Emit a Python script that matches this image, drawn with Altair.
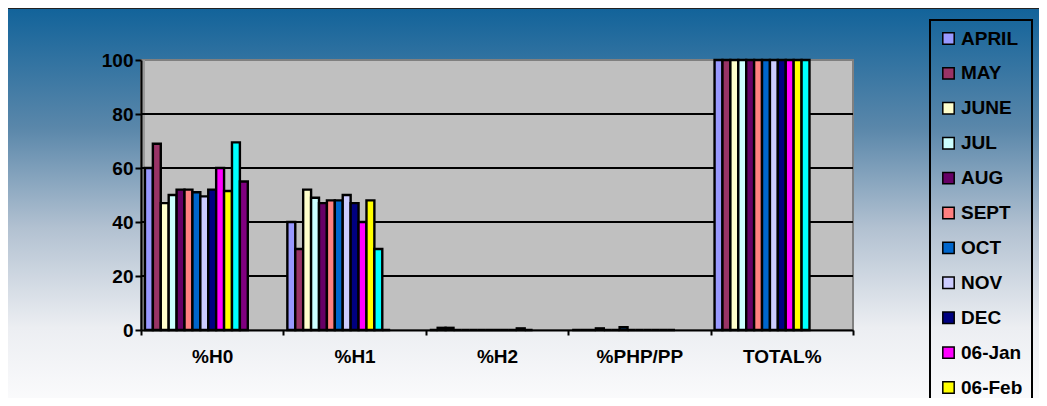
import altair as alt
import pandas as pd

categories = ["%H0", "%H1", "%H2", "%PHP/PP", "TOTAL%"]
series = ["APRIL", "MAY", "JUNE", "JUL", "AUG", "SEPT", "OCT", "NOV", "DEC",
          "06-Jan", "06-Feb", "06-Mar", "06-Apr"]
colors = ["#9999FF", "#993366", "#FFFFCC", "#CCFFFF", "#660066", "#FF8080",
          "#0066CC", "#CCCCFF", "#000080", "#FF00FF", "#FFFF00", "#00FFFF", "#800080"]

h0 =    [60, 69, 47, 50, 52, 52, 51, 49.5, 52, 60, 51.5, 69.5, 55]
h1 =    [40, 30, 52, 49, 47, 48, 48, 50, 47, 40, 48, 30, 0]
h2 =    [0, 0.8, 0.8, 0, 0, 0, 0, 0, 0, 0, 0, 0.6, 0]
php =   [0, 0, 0, 0.6, 0, 0, 1.0, 0, 0, 0, 0, 0, 0]
total = [100, 100, 100, 100, 100, 100, 100, 100, 100, 100, 100, 100, 0]

y_ticks = [0, 20, 40, 60, 80, 100]
grid_values = [20, 40, 60, 80]

legend_shown = series[:11]
dummy_slots = ["_a", "_b", "_c", "_d"]

rows = []
for cat, vals in zip(categories, [h0, h1, h2, php, total]):
    for s, v in zip(series, vals):
        if cat == "TOTAL%" and s == "06-Apr":
            continue
        rows.append({"cat": cat, "series": s, "value": v})
df = pd.DataFrame(rows)

W, H = 712, 270
PL, PT, PR, PB = 133, 52, 186, 68

yscale = alt.Scale(domain=[0, 100], nice=False)
yaxis = alt.Axis(values=y_ticks, labelFont="Liberation Sans",
                 labelFontWeight="bold", labelFontSize=19, labelColor="black",
                 labelPadding=2, domainColor="black", domainWidth=2,
                 tickColor="black", tickSize=6, tickWidth=2,
                 grid=False, zindex=2)

bg = alt.Chart(pd.DataFrame({"a": [0]})).mark_rect(
    fill=alt.Gradient(
        gradient="linear", x1=0, y1=0, x2=0, y2=1,
        stops=[alt.GradientStop(color="#12639a", offset=0),
               alt.GradientStop(color="#5a87aa", offset=0.3),
               alt.GradientStop(color="#b2c1d1", offset=0.55),
               alt.GradientStop(color="#eceef2", offset=0.8),
               alt.GradientStop(color="#fcfcfd", offset=1)]),
    stroke="#222222", strokeWidth=2,
).encode(x=alt.value(-135), x2=alt.value(W + PR + 20),
         y=alt.value(-52), y2=alt.value(H + PB + 10))

plotbg = alt.Chart(pd.DataFrame({"a": [0]})).mark_rect(
    fill="#C0C0C0", stroke="#808080", strokeWidth=2
).encode(x=alt.value(0), x2=alt.value(W), y=alt.value(0), y2=alt.value(H))

wall = alt.Chart(pd.DataFrame({"a": [0]})).mark_rect(
    fill="#9a9a9a"
).encode(x=alt.value(0), x2=alt.value(4), y=alt.value(0), y2=alt.value(H))

grid = alt.Chart(pd.DataFrame({"g": grid_values})).mark_rule(
    color="black", strokeWidth=2
).encode(y=alt.Y("g:Q", scale=yscale, axis=yaxis, title=None),
         x=alt.value(0), x2=alt.value(W))

bars = alt.Chart(df).mark_bar(stroke="black", strokeWidth=2.4, strokeJoin="miter").encode(
    x=alt.X("cat:N", sort=categories, title=None,
            scale=alt.Scale(domain=categories, paddingInner=0, paddingOuter=0),
            axis=alt.Axis(labelAngle=0, labelFont="Liberation Sans", labelFontWeight="bold",
                          labelFontSize=19, labelColor="black", labelPadding=12,
                          domainColor="black", domainWidth=2, tickColor="black",
                          tickSize=5, tickWidth=2, tickBand="extent", grid=False,
                          zindex=2)),
    xOffset=alt.XOffset("series:N", sort=series + dummy_slots,
                        scale=alt.Scale(domain=series + dummy_slots,
                                        paddingInner=0, paddingOuter=0.5)),
    y=alt.Y("value:Q", title=None, scale=yscale, axis=yaxis),
    color=alt.Color("series:N", sort=series,
                    scale=alt.Scale(domain=series, range=colors),
                    legend=alt.Legend(
                        title=None, values=legend_shown, orient="none",
                        legendX=789, legendY=-40,
                        symbolType="square", symbolSize=130, symbolStrokeColor="black",
                        symbolStrokeWidth=1.5, symbolOpacity=1,
                        labelFont="Liberation Sans", labelFontWeight="bold",
                        labelFontSize=19, labelColor="black", labelOffset=3,
                        rowPadding=14.9, padding=9,
                        strokeColor="black", fillColor=None, zindex=2)),
)

chart = alt.layer(bg, plotbg, wall, grid, bars).properties(
    width=W, height=H,
    autosize=alt.AutoSizeParams(type="none"),
    padding={"left": PL, "top": PT, "right": PR, "bottom": PB},
).configure_view(stroke=None).configure_legend(strokeWidth=2)

chart.save("out.html", embed_options={"renderer": "svg", "actions": False})
